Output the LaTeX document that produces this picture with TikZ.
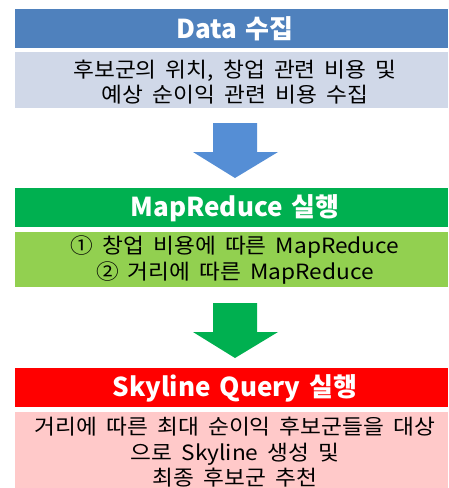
\documentclass[tikz,border=0pt]{standalone}
\usepackage{fontspec}
\setmainfont{Noto Sans CJK KR}[WordSpace=1.5]
\newfontfamily\bodyfont{Noto Sans CJK KR}[FakeStretch=1.08, WordSpace=1.8]
\definecolor{hblue}{HTML}{4F81BD}
\definecolor{bgray}{HTML}{D0D8E8}
\definecolor{ablue}{HTML}{558ED5}
\definecolor{hgreen}{HTML}{00B050}
\definecolor{lgreen}{HTML}{92D050}
\definecolor{hred}{HTML}{FF0000}
\definecolor{lpink}{HTML}{FFC9C9}
\tikzset{
  hdr/.style={font=\fontsize{26}{30}\selectfont\bfseries, text=white, inner sep=0pt},
  bodytxt/.style={font=\bodyfont\fontsize{21}{25.5}\selectfont, text=black, align=center, inner sep=0pt},
}
\begin{document}
\begin{tikzpicture}[x=1pt,y=-1pt]
\useasboundingbox[fill=white] (0,0) rectangle (448,488);
% boxes
\fill[hblue] (15,9) rectangle (448,48);
\fill[bgray] (15,52) rectangle (448,108);
\fill[hgreen] (15,188) rectangle (448,227);
\fill[lgreen] (15,232) rectangle (448,287);
\fill[hred] (15,368) rectangle (448,407);
\fill[lpink] (15,412) rectangle (448,488);
% arrows
\fill[ablue] (213,123) -- (257,123) -- (257,152) -- (278,152) -- (235,178) -- (193,152) -- (213,152) -- cycle;
\fill[hgreen] (213,303) -- (257,303) -- (257,332) -- (278,332) -- (235,358) -- (193,332) -- (213,332) -- cycle;
% texts
\node[hdr] (h1) at (235,29) {Data 수집};
\node[bodytxt] (b1) at (235,82) {후보군의 위치, 창업 관련 비용 및\\예상 순이익 관련 비용 수집};
\node[hdr] (h2) at (235,208) {MapReduce 실행};
\node[bodytxt] (b2) at (235,260) {① 창업 비용에 따른 MapReduce\\② 거리에 따른 MapReduce};
\node[hdr] (h3) at (235,388) {Skyline Query 실행};
\node[bodytxt] (b3) at (235,452.5) {거리에 따른 최대 순이익 후보군들을 대상\\으로 Skyline 생성 및\\최종 후보군 추천};
\end{tikzpicture}
\end{document}
